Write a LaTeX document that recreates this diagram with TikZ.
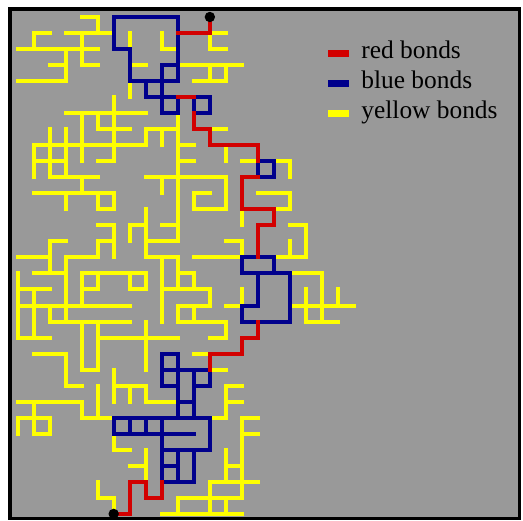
\documentclass[tikz,border=0pt]{standalone}
\usepackage{fontspec}
\setmainfont{Liberation Serif}
\definecolor{boxgray}{RGB}{153,153,153}
\definecolor{bondred}{RGB}{210,0,0}
\definecolor{bondblue}{RGB}{0,0,140}
\definecolor{bondyellow}{RGB}{255,255,0}

\begin{document}
\begin{tikzpicture}[x=8.015pt, y=-8.015pt,
  bond/.style={line width=2pt, line cap=rect},
  ybond/.style={bond, draw=bondyellow},
  bbond/.style={bond, draw=bondblue},
  rbond/.style={bond, draw=bondred},
  legbar/.style={line width=3.35pt}]
  \fill[white] (-1.092,-1.06) rectangle (31.535,31.44);
  \useasboundingbox (-1.092,-1.06) rectangle (31.535,31.44);
  \draw[line width=1.65pt, fill=boxgray] (-0.47,-0.5) rectangle (31.33,31.28);

  % yellow bonds: rows (r/c1/c2), then columns (c/r1/r2)
  \foreach \r/\a/\b in {0/4/5, 1/1/2, 1/3/6, 1/12/13, 2/0/5, 2/9/10, 2/12/13,
      3/2/3, 3/4/5, 3/7/8, 3/10/14, 4/0/3, 4/11/13, 6/3/8, 7/5/7, 7/8/10,
      7/12/13, 8/1/8, 8/10/11, 9/1/3, 9/5/6, 9/10/11, 9/14/15, 9/16/17,
      10/2/5, 10/8/13, 11/1/6, 11/11/12, 11/15/17, 12/5/6, 12/11/13,
      12/16/17, 13/5/6, 13/7/8, 13/9/10, 13/17/18, 14/2/3, 14/5/6, 14/8/10,
      14/13/14, 15/0/2, 15/3/5, 15/8/10, 15/11/14, 15/16/18,
      16/1/3, 16/4/8, 17/0/2, 17/4/5, 17/7/8, 18/0/7, 19/2/7, 20/0/2,
      20/5/10, 21/1/3, 16/10/11, 17/9/12, 16/17/19, 18/17/21, 19/18/20,
      18/10/12, 19/10/13, 20/12/13, 18/13/14, 21/11/12, 22/4/5, 23/3/4,
      22/12/13, 23/13/14, 24/13/14, 25/12/13, 25/14/15, 26/14/15, 28/13/14,
      29/12/15, 30/10/14, 31/9/14, 30/5/6, 28/7/8, 27/6/7, 24/0/4, 25/4/6,
      25/0/2, 26/1/2, 23/6/8, 24/8/10}
    \draw[ybond] (\a,\r) -- (\b,\r);
  \foreach \c/\a/\b in {5/0/1, 1/1/2, 4/1/3, 3/2/4, 7/1/2, 9/1/2, 12/1/2,
      12/3/4, 13/3/4, 7/4/5, 6/5/9, 4/6/9, 5/6/7, 2/7/10, 3/7/10, 10/6/14,
      8/7/8, 9/7/8, 1/8/10, 4/10/11, 3/11/12, 5/11/12, 6/11/12, 13/8/9,
      9/10/11, 13/10/12, 11/11/12, 17/9/10, 17/11/12, 14/12/13, 8/12/15,
      6/13/15, 7/13/14, 2/14/16, 5/14/15, 14/14/15, 18/13/15, 17/14/15,
      0/16/20, 1/17/20, 3/15/19, 4/16/18, 5/16/17, 7/16/17, 8/16/17,
      2/18/19, 4/19/22, 5/19/22, 8/19/22, 3/21/23, 9/15/19, 10/15/17,
      11/16/17, 12/17/18, 10/18/19, 11/18/19, 13/19/20, 14/17/18,
      18/17/19, 19/16/19, 20/17/18,
      13/23/25, 14/25/30, 13/27/29, 12/29/31, 10/30/31, 13/30/31, 5/29/30,
      6/30/31, 8/27/29, 6/26/27, 4/24/25, 5/23/25, 1/24/26, 0/25/26,
      2/25/26, 6/22/24, 7/23/24, 8/23/24}
    \draw[ybond] (\c,\a) -- (\c,\b);

  % blue bonds
  \foreach \r/\a/\b in {0/6/10, 2/6/7, 3/9/10, 4/7/10, 5/8/10, 6/9/10,
      5/11/12, 6/11/12, 9/15/16, 10/15/16, 15/14/16, 16/14/17, 18/14/15,
      19/14/17, 21/9/10, 22/9/12, 23/9/10, 23/11/12, 24/10/11, 25/6/12,
      26/6/11, 27/9/12, 28/9/10, 29/9/11}
    \draw[bbond] (\a,\r) -- (\b,\r);
  \foreach \c/\a/\b in {6/0/2, 7/2/4, 10/0/4, 9/3/6, 8/4/5, 10/5/6, 11/5/6,
      12/5/6, 15/9/10, 16/9/10, 14/15/16, 16/15/16, 15/16/18, 17/16/19,
      14/18/19, 9/21/23, 10/21/25, 11/22/25, 12/22/23, 6/25/26, 7/25/26,
      8/25/26, 9/25/29, 12/25/27, 10/27/29, 11/27/29}
    \draw[bbond] (\c,\a) -- (\c,\b);

  % red bonds
  \foreach \r/\a/\b in {1/10/12, 5/10/11, 7/11/12, 8/12/15, 10/14/15,
      12/14/16, 13/15/16, 20/14/15, 21/12/14, 31/6/7, 29/7/8, 30/8/9}
    \draw[rbond] (\a,\r) -- (\b,\r);
  \foreach \c/\a/\b in {12/0/1, 11/6/7, 12/7/8, 15/8/9, 14/10/12, 16/12/13,
      15/13/15, 15/19/20, 14/20/21, 12/21/22, 7/29/31, 8/29/30, 9/29/30}
    \draw[rbond] (\c,\a) -- (\c,\b);

  \coordinate (top) at (12,0);
  \coordinate (bottom) at (6,31);
  \fill (top) circle (2.6pt);
  \fill (bottom) circle (2.6pt);

  % legend
  \foreach \yy/\col/\txt in {2.27/bondred/red bonds, 4.14/bondblue/blue bonds,
      6.01/bondyellow/yellow bonds} {
    \draw[legbar, \col] (19.39,\yy) -- (20.68,\yy);
    \node[anchor=base west, inner sep=0pt, font=\fontsize{12.7}{15}\selectfont]
      (leg-\col) at (21.43,\yy+0.31) {\txt};
  }
\end{tikzpicture}
\end{document}
